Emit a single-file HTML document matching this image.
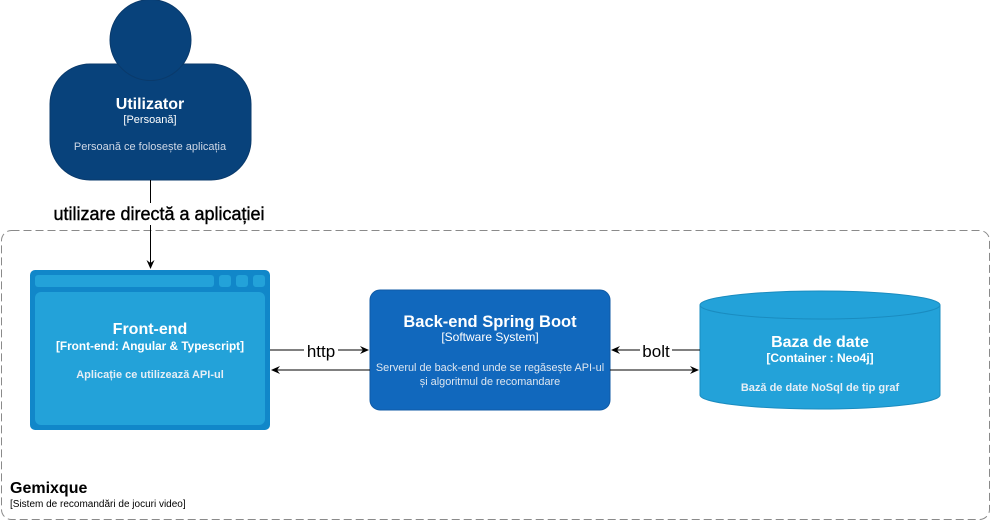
<!DOCTYPE html>
<html><head><meta charset="utf-8"><style>
body{margin:0;background:#fff;width:991px;height:521px;overflow:hidden;font-family:"Liberation Sans",sans-serif;}
</style></head><body>
<svg width="991" height="521" xmlns="http://www.w3.org/2000/svg" font-family="Liberation Sans, sans-serif">
<defs><marker id="a" markerWidth="10" markerHeight="10" refX="8" refY="4" orient="auto" markerUnits="userSpaceOnUse"><path d="M0,0 L9,4 L0,8 L3,4 z" fill="#000"/></marker></defs>
<rect x="1.5" y="230.5" width="988" height="289" rx="10" fill="none" stroke="#8a8a8a" stroke-dasharray="8,4"/>
<text x="10" y="493" font-size="16" font-weight="bold" fill="#000">Gemixque</text>
<text x="10" y="507" font-size="10" fill="#000">[Sistem de recomandări de jocuri video]</text>
<!-- person -->
<rect x="50" y="64" width="201" height="116" rx="40" fill="#08427b" stroke="#0a3a6b"/>
<circle cx="150.5" cy="40" r="40.5" fill="#08427b" stroke="#0a3a6b"/>
<text x="150" y="109" font-size="16" font-weight="bold" fill="#fff" text-anchor="middle">Utilizator</text>
<text x="150" y="123" font-size="11" fill="#fff" text-anchor="middle">[Persoană]</text>
<text x="150" y="150" font-size="11" fill="#cfd8e6" text-anchor="middle">Persoană ce folosește aplicația</text>
<line x1="150.5" y1="180" x2="150.5" y2="268" stroke="#000" marker-end="url(#a)"/>
<rect x="45" y="203" width="230" height="22" fill="#fff"/>
<text x="159" y="220" font-size="18" fill="#000" stroke="#000" stroke-width="0.4" text-anchor="middle">utilizare directă a aplicației</text>
<!-- front-end -->
<rect x="30" y="270" width="240" height="160" rx="5" fill="#1187c9"/>
<rect x="35" y="275" width="179" height="12" rx="3" fill="#23a2d9"/>
<rect x="219" y="275" width="12" height="12" rx="3" fill="#23a2d9"/>
<rect x="236" y="275" width="12" height="12" rx="3" fill="#23a2d9"/>
<rect x="253" y="275" width="12" height="12" rx="3" fill="#23a2d9"/>
<rect x="35" y="292" width="230" height="133" rx="6" fill="#23a2d9"/>
<text x="150" y="334" font-size="16" font-weight="bold" fill="#fff" text-anchor="middle">Front-end</text>
<text x="150" y="350" font-size="11.8" font-weight="bold" fill="#fff" text-anchor="middle">[Front-end: Angular &amp; Typescript]</text>
<text x="150" y="378" font-size="11" font-weight="bold" fill="#e6eef5" text-anchor="middle">Aplicație ce utilizează API-ul</text>
<!-- back-end -->
<rect x="370" y="290" width="240" height="120" rx="10" fill="#1168bd" stroke="#0f5aa6"/>
<text x="490" y="327" font-size="16.5" font-weight="bold" fill="#fff" text-anchor="middle">Back-end Spring Boot</text>
<text x="490" y="341" font-size="12" fill="#fff" text-anchor="middle">[Software System]</text>
<text x="490" y="371" font-size="10.9" fill="#dde6f0" text-anchor="middle">Serverul de back-end unde se regăsește API-ul</text>
<text x="490" y="385" font-size="10.9" fill="#dde6f0" text-anchor="middle">și algoritmul de recomandare</text>
<!-- db -->
<path d="M700,305 L700,395 A120,14 0 0 0 940,395 L940,305" fill="#23a2d9" stroke="#1a8cc0"/>
<ellipse cx="820" cy="305" rx="120" ry="14" fill="#23a2d9" stroke="#1a8cc0"/>
<text x="820" y="347" font-size="16" font-weight="bold" fill="#fff" text-anchor="middle">Baza de date</text>
<text x="820" y="362" font-size="12" font-weight="bold" fill="#fff" text-anchor="middle">[Container : Neo4j]</text>
<text x="820" y="391" font-size="11" font-weight="bold" fill="#e6eef5" text-anchor="middle">Bază de date NoSql de tip graf</text>
<!-- arrows -->
<line x1="270" y1="350" x2="368" y2="350" stroke="#000" marker-end="url(#a)"/>
<rect x="304" y="340" width="34" height="20" fill="#fff"/>
<text x="321" y="357" font-size="17" text-anchor="middle">http</text>
<line x1="370" y1="370" x2="272" y2="370" stroke="#000" marker-end="url(#a)"/>
<line x1="700" y1="350" x2="612" y2="350" stroke="#000" marker-end="url(#a)"/>
<rect x="640" y="340" width="32" height="20" fill="#fff"/>
<text x="656" y="357" font-size="17" text-anchor="middle">bolt</text>
<line x1="610" y1="370" x2="698" y2="370" stroke="#000" marker-end="url(#a)"/>
</svg>
</body></html>
